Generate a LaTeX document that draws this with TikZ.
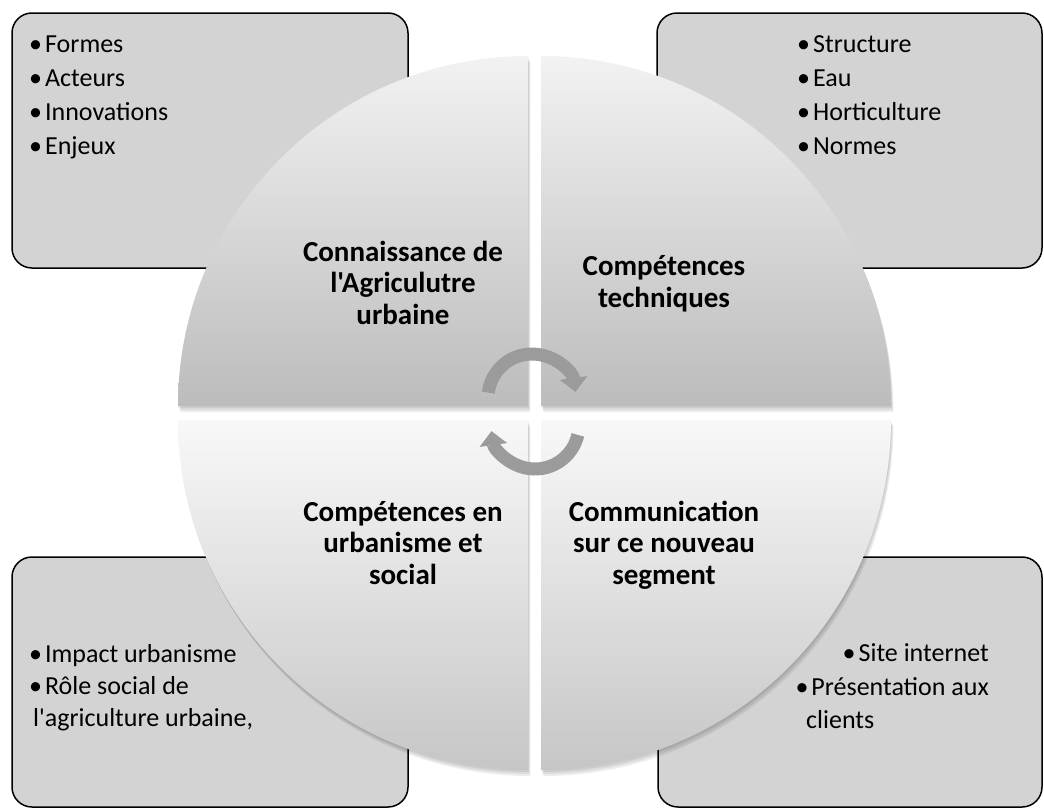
\documentclass[tikz,border=0pt]{standalone}
\usepackage{fontspec}
\setmainfont{Carlito}[Ligatures=TeXOff]
\usetikzlibrary{arrows.meta}

\definecolor{boxgray}{RGB}{211,211,211}
\definecolor{arrowgray}{RGB}{155,155,155}
\definecolor{uppertop}{RGB}{242,242,242}
\definecolor{uppermid}{RGB}{220,220,220}
\definecolor{upperbot}{RGB}{188,188,188}
\definecolor{lowertop}{RGB}{248,248,248}
\definecolor{lowermid}{RGB}{236,236,236}
\definecolor{lowerbot}{RGB}{198,198,198}

\newcommand{\bul}{•\hspace{3pt}}

\tikzset{
  listbox/.style={draw=black, line width=1.5pt, fill=boxgray, rounded corners=20pt},
  listtext/.style={inner sep=0pt, align=left, font=\fontsize{26}{34}\selectfont},
  quadtext/.style={inner sep=0pt, align=center, font=\bfseries\fontsize{29}{31.5}\selectfont},
  upperquad/.style={top color=uppertop, middle color=uppermid, bottom color=upperbot},
  lowerquad/.style={top color=lowertop, middle color=lowermid, bottom color=lowerbot},
  quadshadow/.style={fill=black, opacity=0.07},
  cyclearrow/.style={arrowgray, line width=13pt, -{Triangle[width=27pt,length=14pt]}},
}

\begin{document}
\begin{tikzpicture}[x=1pt,y=-1pt]
  \useasboundingbox (0,0) rectangle (1044,811);

  % Corner boxes
  \draw[listbox] (12,13) rectangle (408,268);
  \draw[listbox] (657,13) rectangle (1042,268);
  \draw[listbox] (12,557) rectangle (408,807);
  \draw[listbox] (658,557) rectangle (1042,807);

  % Soft shadows under the four quarters
  \foreach \s in {2,4,6} {
    \begin{scope}[shift={(0.4*\s,\s)}]
      \fill[quadshadow] (528,406) -- (178,406) arc[start angle=180, end angle=270, radius=350] -- cycle;
      \fill[quadshadow] (541,406) -- (541,56) arc[start angle=270, end angle=360, radius=350] -- cycle;
      \fill[quadshadow] (541,420) -- (891,420) arc[start angle=0, end angle=90, radius=350] -- cycle;
      \fill[quadshadow] (528,420) -- (528,770) arc[start angle=90, end angle=180, radius=350] -- cycle;
    \end{scope}
  }

  % Quarters of the circle
  \shade[upperquad] (528,406) -- (178,406) arc[start angle=180, end angle=270, radius=350] -- cycle;
  \shade[upperquad] (541,406) -- (541,56) arc[start angle=270, end angle=360, radius=350] -- cycle;
  \shade[lowerquad] (541,420) -- (891,420) arc[start angle=0, end angle=90, radius=350] -- cycle;
  \shade[lowerquad] (528,420) -- (528,770) arc[start angle=90, end angle=180, radius=350] -- cycle;

  % Cycle arrows in the middle
  \coordinate (upperhub) at (532,398);
  \coordinate (lowerhub) at (535,425);
  \draw[cyclearrow] (upperhub) ++(187:44) arc[start angle=187, end angle=352, radius=44];
  \draw[cyclearrow] (lowerhub) ++(13:44) arc[start angle=13, end angle=172, radius=44];

  % Quarter titles (anchored on the last line)
  \node[quadtext, anchor=base] (knowledge) at (403,324) {Connaissance de\\l'Agriculutre\\urbaine};
  \node[quadtext, anchor=base] (technical) at (664,307) {Compétences\\techniques};
  \node[quadtext, anchor=base] (urbanism) at (403,584) {Compétences en\\urbanisme et\\social};
  \node[quadtext, anchor=base] (communication) at (664,584) {Communication\\sur ce nouveau\\segment};

  % Lists in the boxes (anchored on the last line)
  \node[listtext, anchor=base west] (basics) at (29,154) {\bul Formes\\\bul Acteurs\\\bul Innovations\\\bul Enjeux};
  \node[listtext, anchor=base west] (skills) at (797,154) {\bul Structure\\\bul Eau\\\bul Horticulture\\\bul Normes};
  \node[listtext, anchor=base west, font=\fontsize{26}{32}\selectfont] (urbanlist) at (29,726) {\bul Impact urbanisme\\\bul Rôle social de\\\hspace*{4pt}l'agriculture urbaine,};
  \node[listtext, anchor=base east, align=right] (weblist) at (989,695) {\bul Site internet\\\bul Présentation aux};
  \node[listtext, anchor=base west] (clients) at (806,728) {clients};
\end{tikzpicture}
\end{document}
